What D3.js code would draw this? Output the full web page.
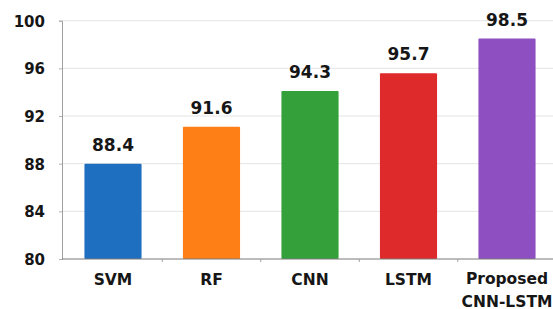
<!DOCTYPE html>
<html>
<head>
<meta charset="utf-8">
<script src="https://cdn.jsdelivr.net/npm/d3@7"></script>
<style>
  html, body { margin: 0; padding: 0; background: #fff; }
  svg { display: block; font-family: "DejaVu Sans", sans-serif; font-weight: bold; }
</style>
</head>
<body>
<svg id="chart" width="553" height="309"></svg>
<script>
// bar heights as drawn, and the printed labels above them
var models = ["SVM", "RF", "CNN", "LSTM", "Proposed\nCNN-LSTM"];
var barValues = [88.0, 91.1, 94.1, 95.6, 98.5];
var valueLabels = ["88.4", "91.6", "94.3", "95.7", "98.5"];
var barColors = ["#1f6fc0", "#ff7f17", "#34a03a", "#de2a2b", "#8e4fc0"];
var yTicks = [80, 84, 88, 92, 96, 100];

var svg = d3.select("#chart"),
    WIDTH = +svg.attr("width"),
    LEFT = 62,
    TOP = 20.7,
    BOTTOM = 259;

var x = d3.scaleBand()
    .domain(models)
    .range([63.75, 556.25])
    .paddingInner(0.42)
    .paddingOuter(0.21);

var y = d3.scaleLinear()
    .domain([80, 100])
    .range([BOTTOM, TOP]);

// gridlines
svg.append("g")
    .selectAll("line")
    .data(yTicks.filter(function (d) { return d > 80; }))
    .enter().append("line")
    .attr("x1", LEFT).attr("x2", WIDTH)
    .attr("y1", function (d) { return y(d); })
    .attr("y2", function (d) { return y(d); })
    .attr("stroke", "#e4e4e4")
    .attr("stroke-width", 1);

// y axis
var yAxis = svg.append("g")
    .attr("transform", "translate(" + LEFT + ",0)")
    .call(d3.axisLeft(y).tickValues(yTicks).tickSize(3).tickPadding(14));
yAxis.select(".domain").attr("stroke", "#a0a0a0");
yAxis.selectAll(".tick line").attr("stroke", "#b0b0b0");
yAxis.selectAll("text")
    .attr("fill", "#161616")
    .attr("dy", "0.36em")
    .style("font-size", "15px")
    .style("font-weight", "bold")
    .style("font-family", "'DejaVu Sans', sans-serif");

// bars
svg.append("g")
    .selectAll("rect")
    .data(models)
    .enter().append("rect")
    .attr("x", function (d) { return x(d); })
    .attr("width", x.bandwidth())
    .attr("y", function (d, i) { return y(barValues[i]); })
    .attr("height", function (d, i) { return y(80) - y(barValues[i]); })
    .attr("rx", 1)
    .attr("fill", function (d, i) { return barColors[i]; });

// value labels
svg.append("g")
    .selectAll("text")
    .data(models)
    .enter().append("text")
    .attr("x", function (d) { return x(d) + x.bandwidth() / 2; })
    .attr("y", function (d, i) { return y(barValues[i]) - 13; })
    .attr("text-anchor", "middle")
    .attr("fill", "#161616")
    .style("font-size", "17px")
    .text(function (d, i) { return valueLabels[i]; });

// baseline with separator ticks
svg.append("line")
    .attr("x1", LEFT).attr("x2", WIDTH)
    .attr("y1", BOTTOM).attr("y2", BOTTOM)
    .attr("stroke", "#7a7a7a")
    .attr("stroke-width", 1.2);

svg.append("g")
    .selectAll("line")
    .data(models.slice(1))
    .enter().append("line")
    .attr("x1", function (d) { return x(d) - x.step() * 0.21; })
    .attr("x2", function (d) { return x(d) - x.step() * 0.21; })
    .attr("y1", BOTTOM).attr("y2", BOTTOM + 3)
    .attr("stroke", "#a0a0a0");

// category labels
svg.append("g")
    .selectAll("text")
    .data(models)
    .enter().append("text")
    .attr("text-anchor", "middle")
    .attr("fill", "#161616")
    .style("font-size", "15.5px")
    .each(function (d) {
        var lines = d.split("\n"),
            cx = x(d) + x.bandwidth() / 2,
            t = d3.select(this);
        lines.forEach(function (line, i) {
            t.append("tspan")
                .attr("x", cx)
                .attr("y", (lines.length > 1 ? 283.5 : 285) + i * 23)
                .text(line);
        });
    });
</script>
</body>
</html>
